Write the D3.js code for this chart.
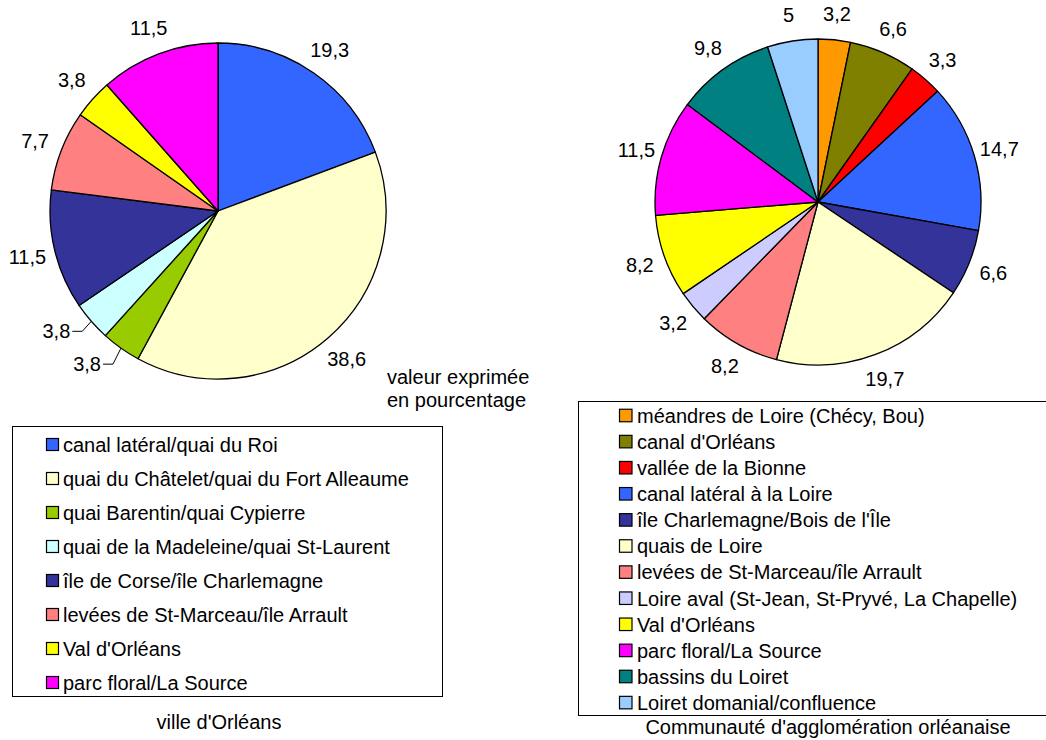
<!DOCTYPE html>
<html>
<head>
<meta charset="utf-8">
<script src="https://cdn.jsdelivr.net/npm/d3@7"></script>
<style>
  html, body { margin: 0; padding: 0; background: #fff; }
  svg { display: block; font-family: Arial, "Liberation Sans", sans-serif; }
</style>
</head>
<body>
<svg id="chart" width="1046" height="740"></svg>
<script>
// Ville d'Orléans
const villeCategories = [
  "canal latéral/quai du Roi",
  "quai du Châtelet/quai du Fort Alleaume",
  "quai Barentin/quai Cypierre",
  "quai de la Madeleine/quai St-Laurent",
  "île de Corse/île Charlemagne",
  "levées de St-Marceau/île Arrault",
  "Val d'Orléans",
  "parc floral/La Source"
];
const villeValues = [19.3, 38.6, 3.8, 3.8, 11.5, 7.7, 3.8, 11.5];
const villeColors = ["#3366FF", "#FFFFCC", "#99CC00", "#CCFFFF", "#333399", "#FF8080", "#FFFF00", "#FF00FF"];

// Communauté d'agglomération orléanaise
const aggloCategories = [
  "méandres de Loire (Chécy, Bou)",
  "canal d'Orléans",
  "vallée de la Bionne",
  "canal latéral à la Loire",
  "île Charlemagne/Bois de l'Île",
  "quais de Loire",
  "levées de St-Marceau/île Arrault",
  "Loire aval (St-Jean, St-Pryvé, La Chapelle)",
  "Val d'Orléans",
  "parc floral/La Source",
  "bassins du Loiret",
  "Loiret domanial/confluence"
];
const aggloValues = [3.2, 6.6, 3.3, 14.7, 6.6, 19.7, 8.2, 3.2, 8.2, 11.5, 9.8, 5];
const aggloColors = ["#FF9900", "#808000", "#FF0000", "#3366FF", "#333399", "#FFFFCC", "#FF8080", "#CCCCFF", "#FFFF00", "#FF00FF", "#008080", "#99CCFF"];

const villeTitle = "ville d'Orléans";
const aggloTitle = "Communauté d'agglomération orléanaise";
const unitNote = ["valeur exprimée", "en pourcentage"];

const fmt = v => String(v).replace(".", ",");
const FONT = 20;
const svg = d3.select("#chart");

function drawPie(cfg) {
  const pie = d3.pie().sort(null).value(d => d)(cfg.values);
  const arc = d3.arc().innerRadius(0).outerRadius(cfg.r);
  const g = svg.append("g").attr("transform", `translate(${cfg.cx},${cfg.cy})`);

  g.selectAll("path.slice")
    .data(pie)
    .join("path")
    .attr("class", "slice")
    .attr("d", arc)
    .attr("fill", (d, i) => cfg.colors[i])
    .attr("stroke", "#000")
    .attr("stroke-width", 1.3)
    .attr("stroke-linejoin", "round");

  const mid = d => (d.startAngle + d.endAngle) / 2;
  const polar = (a, rad) => [rad * Math.sin(a), -rad * Math.cos(a)];

  pie.forEach((d, i) => {
    const a = mid(d);
    const elbow = cfg.leaders[i];
    if (elbow) {
      // small slices: label pulled out with an elbow leader line
      const [ex, ey] = polar(a, cfg.r);
      const bx = ex + elbow[0], by = ey + elbow[1];
      const tx = bx - 10;
      g.append("path")
        .attr("d", `M${ex},${ey}L${bx},${by}L${tx},${by}`)
        .attr("fill", "none")
        .attr("stroke", "#000")
        .attr("stroke-width", 1);
      g.append("text")
        .attr("x", tx - 2)
        .attr("y", by)
        .attr("dy", "0.35em")
        .attr("text-anchor", "end")
        .attr("font-size", FONT)
        .text(fmt(d.data));
    } else {
      const [lx, ly] = polar(a, cfg.r + cfg.labelGap);
      g.append("text")
        .attr("x", lx)
        .attr("y", ly)
        .attr("dy", "0.35em")
        .attr("text-anchor", "middle")
        .attr("font-size", FONT)
        .text(fmt(d.data));
    }
  });
}

function drawLegend(cfg) {
  const g = svg.append("g");
  g.append("rect")
    .attr("x", cfg.x + 0.5).attr("y", cfg.y + 0.5)
    .attr("width", cfg.w).attr("height", cfg.h)
    .attr("fill", "#fff")
    .attr("stroke", "#000")
    .attr("stroke-width", 1);

  const y = d3.scalePoint()
    .domain(cfg.categories)
    .range([cfg.firstY, cfg.firstY + cfg.step * (cfg.categories.length - 1)]);

  const rows = g.selectAll("g.row")
    .data(cfg.categories)
    .join("g")
    .attr("class", "row")
    .attr("transform", d => `translate(0,${y(d)})`);

  rows.append("rect")
    .attr("x", cfg.swatchX + 0.5)
    .attr("y", -cfg.sw / 2)
    .attr("width", cfg.sw)
    .attr("height", cfg.sw)
    .attr("fill", (d, i) => cfg.colors[i])
    .attr("stroke", "#000")
    .attr("stroke-width", 1.2);

  rows.append("text")
    .attr("x", cfg.textX)
    .attr("y", 7.3)
    .attr("font-size", FONT)
    .text(d => d);
}

drawPie({ values: villeValues, colors: villeColors, cx: 218, cy: 211, r: 168, labelGap: 28,
          leaders: { 2: [-8, 16], 3: [-9, 10] } });
drawPie({ values: aggloValues, colors: aggloColors, cx: 818, cy: 202, r: 163, labelGap: 26,
          leaders: {} });

drawLegend({ categories: villeCategories, colors: villeColors, x: 12, y: 426, w: 430, h: 270,
             firstY: 444.5, step: 34, swatchX: 46, sw: 12, textX: 63 });
drawLegend({ categories: aggloCategories, colors: aggloColors, x: 578, y: 401, w: 520, h: 314,
             firstY: 415.5, step: 26.1, swatchX: 619, sw: 12.5, textX: 637 });

svg.append("text")
  .attr("x", 387).attr("y", 383.5)
  .attr("font-size", FONT)
  .selectAll("tspan")
  .data(unitNote)
  .join("tspan")
  .attr("x", 387)
  .attr("dy", (d, i) => i === 0 ? 0 : 23.5)
  .text(d => d);

svg.append("text")
  .attr("x", 219).attr("y", 729)
  .attr("text-anchor", "middle")
  .attr("font-size", FONT)
  .text(villeTitle);

svg.append("text")
  .attr("x", 828).attr("y", 734)
  .attr("text-anchor", "middle")
  .attr("font-size", FONT)
  .text(aggloTitle);
</script>
</body>
</html>
